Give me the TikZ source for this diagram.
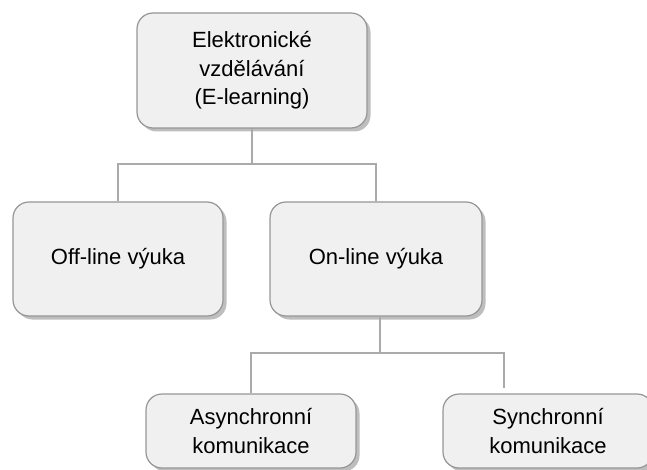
\documentclass[tikz,border=0pt]{standalone}
\usepackage{fontspec}
\setmainfont{Liberation Sans}
\usetikzlibrary{shadows}
\definecolor{boxfill}{RGB}{240, 240, 240}
\definecolor{boxline}{RGB}{150, 150, 150}
\definecolor{boxshadow}{RGB}{190, 190, 190}
\definecolor{linkgray}{RGB}{170, 170, 170}

\tikzset{
  topic/.style={draw=boxline, fill=boxfill, line width=1.2pt, rounded corners=16pt,
    align=center, inner sep=0pt, font=\fontsize{22}{28.5}\selectfont,
    drop shadow={shadow xshift=3.5pt, shadow yshift=-3.5pt, fill=boxshadow, opacity=1}},
  link/.style={draw=linkgray, line width=2pt}
}

\begin{document}
\begin{tikzpicture}[x=1pt, y=-1pt]
  \useasboundingbox (0,0) rectangle (647,470);
  % levels
  \node[topic, minimum width=230pt, minimum height=115pt] (elearn) at (252,70.5)
    {Elektronické\\vzdělávání\\(E-learning)};
  \node[topic, minimum width=210pt, minimum height=114pt] (offline) at (118,259) {Off-line výuka};
  \node[topic, minimum width=212pt, minimum height=114pt] (online) at (376,259) {On-line výuka};
  \node[topic, minimum width=210pt, minimum height=74pt] (async) at (251,431)
    {Asynchronní\\komunikace};
  \node[topic, minimum width=210pt, minimum height=74pt] (sync) at (548,431)
    {Synchronní\\komunikace};

  % connectors
  \draw[link] (elearn.south) -- ++(0,35) coordinate (fork1) -| (offline.north);
  \draw[link] (fork1) -| (online.north);
  \coordinate (syncend) at (504,388);
  \draw[link] ([xshift=4pt]online.south) -- ++(0,36) coordinate (fork2) -| (async.north);
  \draw[link] (fork2) -| (syncend);
\end{tikzpicture}
\end{document}
